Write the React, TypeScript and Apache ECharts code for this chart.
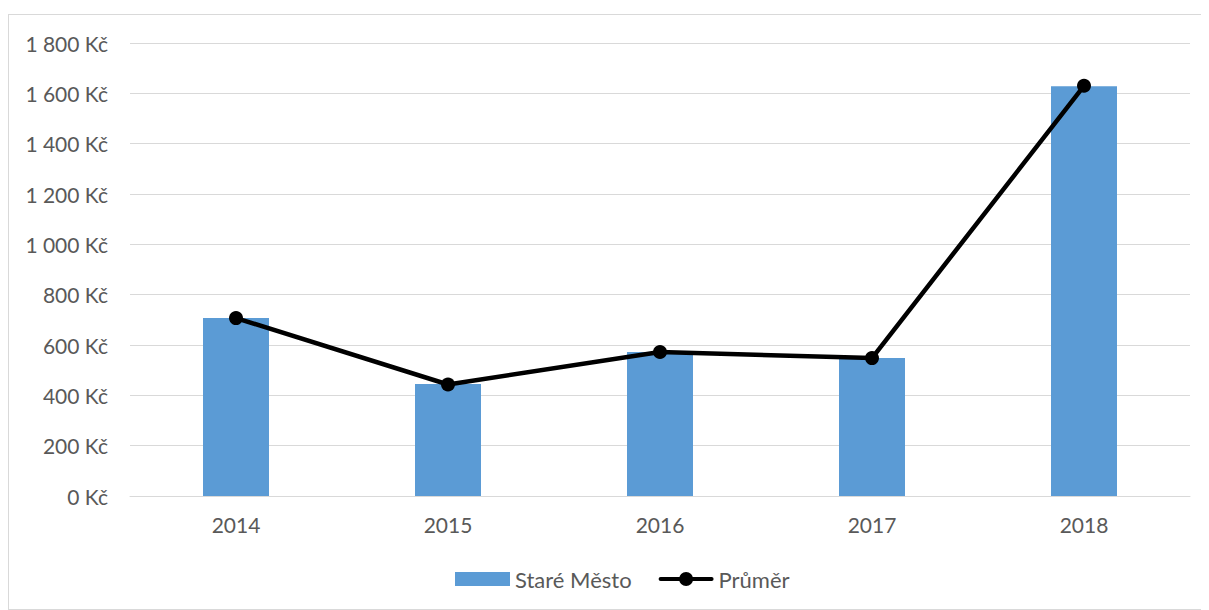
import React, { useEffect, useRef } from "react";
import * as echarts from "echarts";

const categories = ["2014", "2015", "2016", "2017", "2018"];
const stareMesto = [707, 445, 572, 548, 1628];
const prumer = [707, 443, 572, 548, 1630];

const fmt = (v: number) => {
  const s = String(v);
  const withSpace = s.replace(/\B(?=(\d{3})+(?!\d))/g, " ");
  return withSpace + " Kč";
};

const lineIcon =
  "path://M2,5 L21,5 L21,9 L2,9 A2,2 0 0,1 2,5 Z M34,5 L53,5 A2,2 0 0,1 53,9 L34,9 Z M20.5,7 A7,7 0 1,1 34.5,7 A7,7 0 1,1 20.5,7 Z";

export default function App() {
  const ref = useRef<HTMLDivElement>(null);
  useEffect(() => {
    if (!ref.current) return;
    const chart = echarts.init(ref.current, undefined, { renderer: "svg" });
    const font = "Lato, 'Open Sans', sans-serif";
    chart.setOption({
      animation: false,
      textStyle: { fontFamily: font },
      grid: { left: 121, right: 17, top: 28, bottom: 113, containLabel: false },
      legend: {
        bottom: 14,
        left: 441,
        itemWidth: 55,
        itemHeight: 14,
        itemGap: 27,
        textStyle: { color: "#595959", fontSize: 22, fontFamily: font },
        data: [
          { name: "Staré Město", icon: "rect" },
          { name: "Průměr", icon: lineIcon, itemStyle: { color: "#000", borderWidth: 0 } },
        ],
      },
      xAxis: {
        type: "category",
        data: categories,
        axisLine: { show: true, lineStyle: { color: "#d9d9d9", width: 1 } },
        axisTick: { show: false },
        axisLabel: { color: "#595959", fontSize: 21, margin: 18, fontFamily: font },
      },
      yAxis: {
        type: "value",
        min: 0,
        max: 1800,
        interval: 200,
        axisLine: { show: false },
        axisTick: { show: false },
        splitLine: { lineStyle: { color: "#d9d9d9", width: 1 } },
        axisLabel: {
          color: "#595959",
          fontSize: 21,
          margin: 22,
          fontFamily: font,
          formatter: (v: number) => fmt(v),
        },
      },
      series: [
        {
          name: "Staré Město",
          type: "bar",
          data: stareMesto,
          barWidth: 66,
          itemStyle: { color: "#5b9bd5" },
        },
        {
          name: "Průměr",
          type: "line",
          data: prumer,
          symbol: "circle",
          symbolSize: 14,
          lineStyle: { color: "#000000", width: 4.5 },
          itemStyle: { color: "#000000" },
        },
      ],
    });
    return () => chart.dispose();
  }, []);
  return (
    <div
      style={{
        width: 1198,
        height: 594,
        marginTop: 6,
        border: "1px solid #d9d9d9",
        background: "#fff",
      }}
    >
      <div ref={ref} style={{ width: 1198, height: 594 }} />
    </div>
  );
}
